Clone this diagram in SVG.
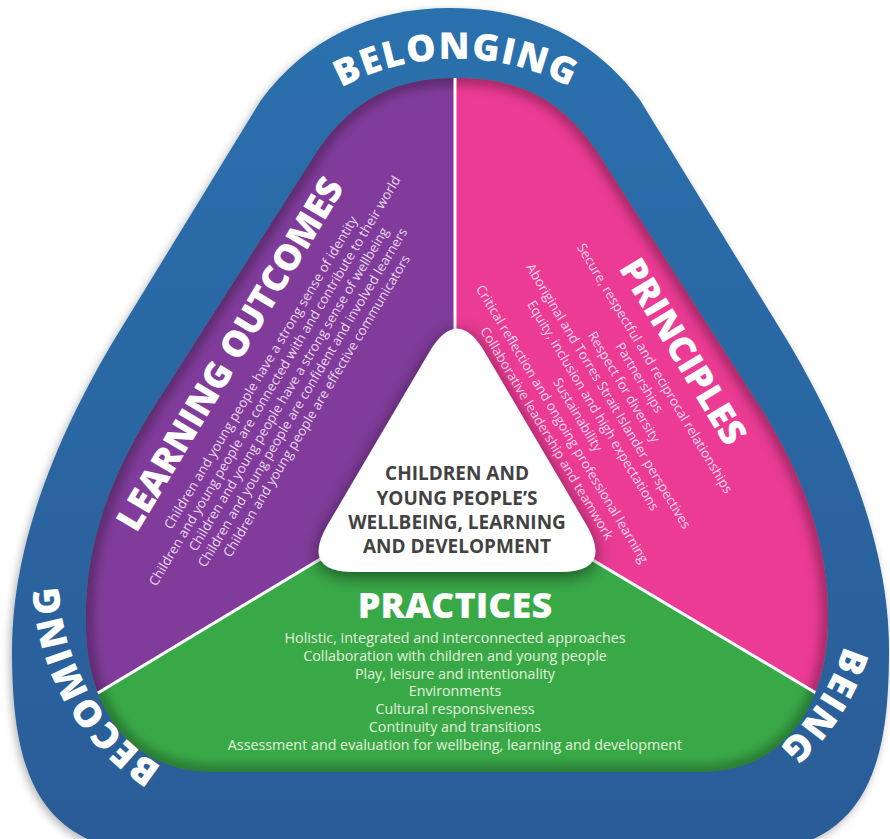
<svg xmlns="http://www.w3.org/2000/svg" width="890" height="839" viewBox="0 0 890 839">
<defs>
<style>
.ring-label{font-family:"Open Sans","DejaVu Sans",sans-serif;font-weight:800;font-size:37px;fill:#ffffff;letter-spacing:1.5px}
.heading{font-family:"Open Sans","DejaVu Sans",sans-serif;font-weight:800;font-size:36px;fill:#ffffff;text-anchor:middle}
.item{font-family:"Open Sans","DejaVu Sans",sans-serif;font-size:13.4px;text-anchor:middle}
.lo-item{fill:#e9d7f0}
.pr-item{fill:#fdd8ea}
.pa-item{fill:#e2f3da;font-size:14.3px}
.center-text{font-family:"Open Sans","DejaVu Sans",sans-serif;font-weight:700;font-size:19px;fill:#424242;text-anchor:middle}
.divider{stroke:#ffffff;stroke-width:3;fill:none}
</style>
<linearGradient id="blueGrad" x1="0" y1="0" x2="0" y2="1">
<stop offset="0" stop-color="#2a70ad"/>
<stop offset="1" stop-color="#2a5c97"/>
</linearGradient>
<filter id="outerShadow" x="-10%" y="-10%" width="120%" height="120%">
<feDropShadow dx="-2" dy="3" stdDeviation="4" flood-color="#000" flood-opacity="0.3"/>
</filter>
<filter id="triShadow" x="-30%" y="-30%" width="160%" height="160%">
<feDropShadow dx="0" dy="4" stdDeviation="9" flood-color="#000" flood-opacity="0.55"/>
</filter>
<filter id="soft" x="-10%" y="-10%" width="120%" height="120%">
<feGaussianBlur stdDeviation="6"/>
</filter>
<clipPath id="innerClip">
<path d="M 457 78 C 521 78 561 100 596 150 L 762 410 C 812 490 830 560 828 625 C 826 700 790 772 700 772 L 214 772 C 124 772 86 700 86 625 C 84 560 102 490 152 410 L 318 150 C 353 100 393 78 457 78 Z"/>
</clipPath>
<path id="arcBelonging" d="M 236 200 A 242 242 0 0 1 676 200"/>
<path id="arcBecoming" d="M 241.6 797.6 A 221 221 0 0 1 72.3 504.4"/>
<path id="arcBeing" d="M 854 580 A 224 224 0 0 1 706.6 790.5"/>
</defs>

<g id="ring">
<path d="M 451 8 C 533 8 595 40 640 100 L 790 345 C 840 430 889 540 889 650 C 889 760 870 853 740 853 L 161 853 C 31 853 12 760 12 650 C 12 540 61 430 111 345 L 261 100 C 306 40 369 8 451 8 Z" fill="url(#blueGrad)" filter="url(#outerShadow)"/>
</g>

<g id="sectors" clip-path="url(#innerClip)">
<rect x="0" y="0" width="890" height="839" fill="#39a948"/>
<path id="sector-purple" d="M 455 478 L 455 0 L 0 0 L 0 752 Z" fill="#813c9b"/>
<path id="sector-pink" d="M 455 478 L 455 0 L 890 0 L 890 737 Z" fill="#eb3b94"/>
<path d="M 457 78 C 521 78 561 100 596 150 L 762 410 C 812 490 830 560 828 625 C 826 700 790 772 700 772 L 214 772 C 124 772 86 700 86 625 C 84 560 102 490 152 410 L 318 150 C 353 100 393 78 457 78 Z" fill="none" stroke="#000" stroke-opacity="0.35" stroke-width="12" filter="url(#soft)"/>
</g>

<g id="connectors" clip-path="url(#innerClip)">
<line class="divider" x1="455" y1="0" x2="455" y2="478"/>
<line class="divider" x1="455" y1="478" x2="0" y2="752"/>
<line class="divider" x1="455" y1="478" x2="890" y2="737"/>
</g>

<g id="belonging">
<text class="ring-label"><textPath href="#arcBelonging" startOffset="50%" text-anchor="middle">BELONGING</textPath></text>
</g>
<g id="becoming">
<text class="ring-label"><textPath href="#arcBecoming" startOffset="50.5%" text-anchor="middle">BECOMING</textPath></text>
</g>
<g id="being">
<text class="ring-label"><textPath href="#arcBeing" startOffset="47%" text-anchor="middle">BEING</textPath></text>
</g>

<g id="learning-outcomes" transform="rotate(-59)">
<text class="heading" x="-185" y="392">LEARNING OUTCOMES</text>
<text class="item lo-item" x="-185" y="420">Children and young people have a strong sense of identity</text>
<text class="item lo-item" x="-185" y="436.25">Children and young people are connected with and contribute to their world</text>
<text class="item lo-item" x="-185" y="452.5">Children and young people have a strong sense of wellbeing</text>
<text class="item lo-item" x="-185" y="468.75">Children and young people are confident and involved learners</text>
<text class="item lo-item" x="-185" y="485">Children and young people are effective communicators</text>
</g>

<g id="principles" transform="rotate(59)">
<text class="heading" x="653" y="-392">PRINCIPLES</text>
<text class="item pr-item" x="653" y="-367">Secure, respectful and reciprocal relationships</text>
<text class="item pr-item" x="653" y="-349">Partnerships</text>
<text class="item pr-item" x="653" y="-331">Respect for diversity</text>
<text class="item pr-item" x="653" y="-313">Aboriginal and Torres Strait Islander perspectives</text>
<text class="item pr-item" x="653" y="-295">Equity, inclusion and high expectations</text>
<text class="item pr-item" x="653" y="-277">Sustainability</text>
<text class="item pr-item" x="653" y="-259">Critical reflection and ongoing professional learning</text>
<text class="item pr-item" x="653" y="-241">Collaborative leadership and teamwork</text>
</g>

<g id="practices">
<text class="heading" x="455" y="618">PRACTICES</text>
<text class="item pa-item" x="455" y="643">Holistic, integrated and interconnected approaches</text>
<text class="item pa-item" x="455" y="660.8">Collaboration with children and young people</text>
<text class="item pa-item" x="455" y="678.6">Play, leisure and intentionality</text>
<text class="item pa-item" x="455" y="696.4">Environments</text>
<text class="item pa-item" x="455" y="714.2">Cultural responsiveness</text>
<text class="item pa-item" x="455" y="732">Continuity and transitions</text>
<text class="item pa-item" x="455" y="749.8">Assessment and evaluation for wellbeing, learning and development</text>
</g>

<g id="center">
<path d="M 429.1 352.4 Q 457 305 484.9 352.4 L 586.1 524.6 Q 614 572 559 572 L 355 572 Q 300 572 327.9 524.6 Z" fill="#ffffff" filter="url(#triShadow)"/>
<text class="center-text" x="457" y="480">CHILDREN AND</text>
<text class="center-text" x="457" y="505">YOUNG PEOPLE’S</text>
<text class="center-text" x="457" y="529">WELLBEING, LEARNING</text>
<text class="center-text" x="457" y="553">AND DEVELOPMENT</text>
</g>
</svg>
